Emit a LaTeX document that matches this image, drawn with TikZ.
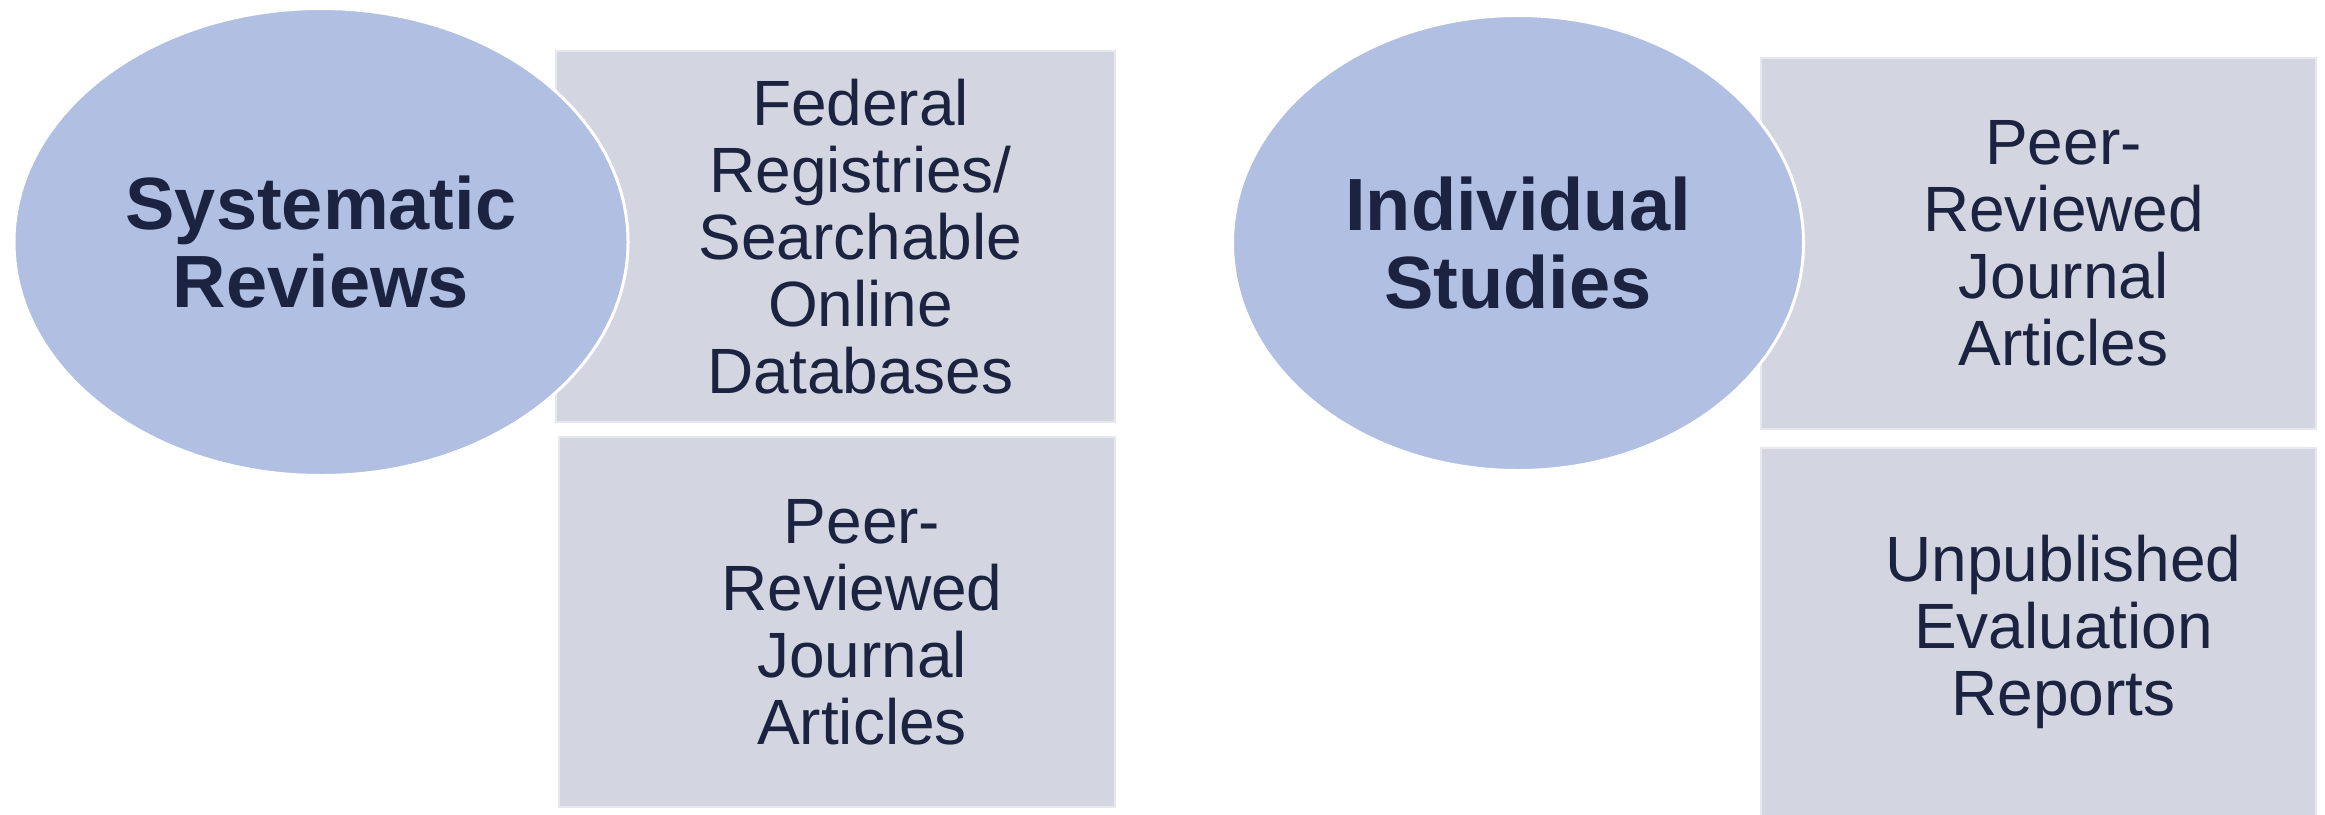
\documentclass[tikz,border=0pt]{standalone}
\usepackage{fontspec}
\setmainfont{Liberation Sans}
\usetikzlibrary{shapes.geometric}

\definecolor{ovalblue}{RGB}{176,191,226}
\definecolor{boxgray}{RGB}{211,214,224}
\definecolor{inkblue}{RGB}{27,35,64}

\begin{document}
\begin{tikzpicture}[x=1pt,y=-1pt,
    srcbox/.style={rectangle,fill=boxgray,draw=boxgray!55!white,line width=1.5pt,inner sep=0pt},
    srctext/.style={align=center,text=inkblue,inner sep=0pt,font=\fontsize{64}{67}\selectfont},
    kind/.style={ellipse,fill=ovalblue,draw=white,line width=3pt,inner sep=0pt,
      text=inkblue,align=center,font=\fontsize{74}{78}\selectfont\bfseries}]
  \useasboundingbox (0,0) rectangle (2325,814);

  % left group
  \node[srcbox,minimum width=559,minimum height=371] (fed) at (835.5,236.5) {};
  \node[srcbox,minimum width=556,minimum height=370] (peerA) at (837,622) {};
  \node[srctext] (fedtxt) at ([xshift=25]fed.center) {Federal\\Registries/\\Searchable\\Online\\Databases};
  \node[srctext] (peerAtxt) at ([xshift=25]peerA.center) {Peer-\\Reviewed\\Journal\\Articles};
  \node[kind,minimum width=614,minimum height=467] (sys) at (321,242) {Systematic\\Reviews};

  % right group
  \node[srcbox,minimum width=555,minimum height=371] (peerB) at (2038.5,243.5) {};
  \node[srcbox,minimum width=555,minimum height=368] (unpub) at (2038.5,632) {};
  \node[srctext] (peerBtxt) at ([xshift=25]peerB.center) {Peer-\\Reviewed\\Journal\\Articles};
  \node[srctext] (unpubtxt) at ([xshift=25]unpub.center) {Unpublished\\Evaluation\\Reports};
  \node[kind,minimum width=571,minimum height=455] (ind) at (1518,243) {Individual\\Studies};
\end{tikzpicture}
\end{document}
